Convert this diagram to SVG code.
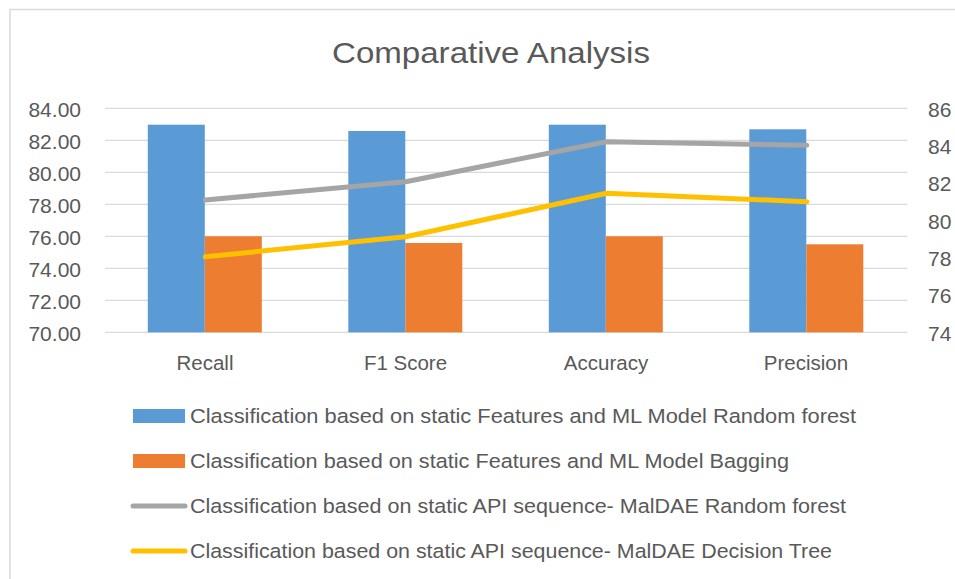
<svg xmlns="http://www.w3.org/2000/svg" width="955" height="579" viewBox="0 0 955 579">
<style>
text{font-family:"Liberation Sans",Arial,sans-serif;fill:#595959}
.tick{font-size:21px}
.cat{font-size:20.5px;text-anchor:middle}
.leg{font-size:20.5px}
.grid{stroke:#d9d9d9;stroke-width:1.3}
.blue{fill:#5b9bd5}
.orange{fill:#ed7d31}
.ln{fill:none;stroke-width:5;stroke-linecap:round;stroke-linejoin:round}
</style>
<rect x="0" y="0" width="955" height="579" fill="#ffffff"/>
<rect x="10" y="9.5" width="960" height="600" fill="none" stroke="#d9d9d9" stroke-width="1.5"/>
<text id="title" x="491" y="63" font-size="29" text-anchor="middle" textLength="318" lengthAdjust="spacingAndGlyphs">Comparative Analysis</text>
<g id="gridlines">
<line class="grid" x1="105" y1="108.3" x2="907" y2="108.3"/>
<line class="grid" x1="105" y1="140.3" x2="907" y2="140.3"/>
<line class="grid" x1="105" y1="172.3" x2="907" y2="172.3"/>
<line class="grid" x1="105" y1="204.3" x2="907" y2="204.3"/>
<line class="grid" x1="105" y1="236.3" x2="907" y2="236.3"/>
<line class="grid" x1="105" y1="268.3" x2="907" y2="268.3"/>
<line class="grid" x1="105" y1="300.3" x2="907" y2="300.3"/>
<line class="grid" x1="105" y1="332.3" x2="907" y2="332.3"/>
</g>
<g id="left-axis" class="tick" text-anchor="end">
<text x="81" y="116.7">84.00</text>
<text x="81" y="148.7">82.00</text>
<text x="81" y="180.7">80.00</text>
<text x="81" y="212.7">78.00</text>
<text x="81" y="244.7">76.00</text>
<text x="81" y="276.7">74.00</text>
<text x="81" y="308.7">72.00</text>
<text x="81" y="340.7">70.00</text>
</g>
<g id="right-axis" class="tick">
<text x="928" y="116.7">86</text>
<text x="928" y="154">84</text>
<text x="928" y="191.3">82</text>
<text x="928" y="228.7">80</text>
<text x="928" y="266">78</text>
<text x="928" y="303.3">76</text>
<text x="928" y="340.7">74</text>
</g>
<g id="bars">
<rect class="blue" x="147.8" y="124.7" width="57" height="207.6"/>
<rect class="orange" x="204.8" y="236.3" width="57" height="96"/>
<rect class="blue" x="348.3" y="131" width="57" height="201.3"/>
<rect class="orange" x="405.3" y="243" width="57" height="89.3"/>
<rect class="blue" x="548.8" y="124.7" width="57" height="207.6"/>
<rect class="orange" x="605.8" y="236.3" width="57" height="96"/>
<rect class="blue" x="749.3" y="129.3" width="57" height="203"/>
<rect class="orange" x="806.3" y="244.3" width="57" height="88"/>
</g>
<g id="connectors">
<polyline class="ln" stroke="#a5a5a5" points="205.3,200 405.8,181.7 606.3,141.7 806.8,145.3"/>
<polyline class="ln" stroke="#ffc000" points="205.3,256.7 405.8,236.7 606.3,193.3 806.8,201.7"/>
</g>
<g id="categories" class="cat">
<text x="205" y="370">Recall</text>
<text x="405.5" y="370">F1 Score</text>
<text x="606" y="370">Accuracy</text>
<text x="806" y="370">Precision</text>
</g>
<g id="legend">
<g id="legend-rf">
<rect class="blue" x="133" y="409" width="52" height="14"/>
<text class="leg" x="190" y="423" textLength="666" lengthAdjust="spacingAndGlyphs">Classification based on static Features and ML Model Random forest</text>
</g>
<g id="legend-bagging">
<rect class="orange" x="133" y="454" width="52" height="14"/>
<text class="leg" x="190" y="468" textLength="599" lengthAdjust="spacingAndGlyphs">Classification based on static Features and ML Model Bagging</text>
</g>
<g id="legend-maldae-rf">
<line class="ln" stroke="#a5a5a5" x1="133" y1="506" x2="185" y2="506"/>
<text class="leg" x="190" y="513" textLength="656" lengthAdjust="spacingAndGlyphs">Classification based on static API sequence- MalDAE Random forest</text>
</g>
<g id="legend-maldae-dt">
<line class="ln" stroke="#ffc000" x1="133" y1="551" x2="185" y2="551"/>
<text class="leg" x="190" y="558" textLength="642" lengthAdjust="spacingAndGlyphs">Classification based on static API sequence- MalDAE Decision Tree</text>
</g>
</g>
</svg>
